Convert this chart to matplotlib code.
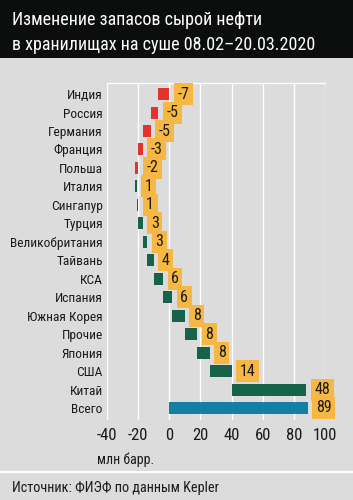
import matplotlib
matplotlib.use("Agg")
import matplotlib.pyplot as plt
import numpy as np
from matplotlib.patches import Rectangle
from matplotlib.lines import Line2D

plt.rcParams['font.family'] = ['Roboto Condensed', 'PT Sans Narrow', 'DejaVu Sans']

countries = ["Индия", "Россия", "Германия", "Франция", "Польша", "Италия",
             "Сингапур", "Турция", "Великобритания", "Тайвань", "КСА", "Испания",
             "Южная Корея", "Прочие", "Япония", "США", "Китай"]
changes = [-7, -5, -5, -3, -2, 1, 1, 3, 3, 4, 6, 6, 8, 8, 8, 14, 48]
total_label = "Всего"
total_value = 89
xticks = [-40, -20, 0, 20, 40, 60, 80, 100]

W, H = 353, 500
bg = "#dcdcdc"
red = "#e2332f"
green = "#16624a"
blue = "#127fa3"
orange = "#f6b843"

fig = plt.figure(figsize=(W / 100, H / 100), dpi=100, facecolor=bg)

# header band
fig.patches.append(Rectangle((0, 1 - 58 / H), 1, 58 / H, transform=fig.transFigure,
                             facecolor="#0c0e0d", edgecolor="none", zorder=0))
fig.text(12 / W, 1 - 20 / H, "Изменение запасов сырой нефти", color="white",
         fontsize=13, va="center", ha="left")
fig.text(12 / W, 1 - 45 / H, "в хранилищах на суше 08.02–20.03.2020", color="white",
         fontsize=13, va="center", ha="left")

ax = fig.add_axes([107 / W, 80 / H, 218 / W, 337 / H])
ax.set_facecolor(bg)

ends = np.cumsum(changes)
starts = ends - np.array(changes)
n = len(countries)
y = np.arange(n + 1)

colors = [red if v < 0 else green for v in changes]
ax.barh(y[:n], changes, left=starts, height=0.65, color=colors, zorder=3)
ax.barh(y[n], total_value, left=0, height=0.65, color=blue, zorder=3)

labels_txt = [str(v) for v in changes] + [str(total_value)]
right_ends = list(np.maximum(starts, ends)) + [total_value]
for yi, xe, t in zip(y, right_ends, labels_txt):
    ax.annotate(t, (xe, yi), xytext=(8, 0), textcoords="offset pixels",
                ha="left", va="center", fontsize=11.5, color="#1a1a1a", zorder=4,
                bbox=dict(boxstyle="square,pad=0.22", facecolor=orange, edgecolor="none"))

ax.set_xlim(-40, 100)
ax.set_ylim(n + 0.65, -0.6)
ax.set_xticks(xticks)
ax.set_xticklabels([str(t) for t in xticks], fontsize=12)
ax.set_yticks(y)
ax.set_yticklabels(countries + [total_label], fontsize=9.6)
ax.tick_params(axis="x", length=0, pad=6, colors="#1a1a1a")
ax.tick_params(axis="y", length=0, pad=3, colors="#1a1a1a")
ax.grid(axis="x", color="white", linewidth=1.0, zorder=1)
for s in ["left", "right", "bottom"]:
    ax.spines[s].set_visible(False)
ax.spines["top"].set_color("white")
ax.spines["top"].set_linewidth(1.0)

fig.text(97 / W, 1 - 460 / H, "млн барр.", fontsize=10, color="#1a1a1a",
         va="center", ha="left")
fig.lines.append(Line2D([0, 1], [1 - 472 / H, 1 - 472 / H], transform=fig.transFigure,
                        color="white", linewidth=1.5))
fig.text(12 / W, 1 - 488 / H, "Источник: ФИЭФ по данным Kepler", fontsize=10.3,
         color="#1a1a1a", va="center", ha="left")

fig.savefig("out.png", dpi=100, facecolor=bg)
